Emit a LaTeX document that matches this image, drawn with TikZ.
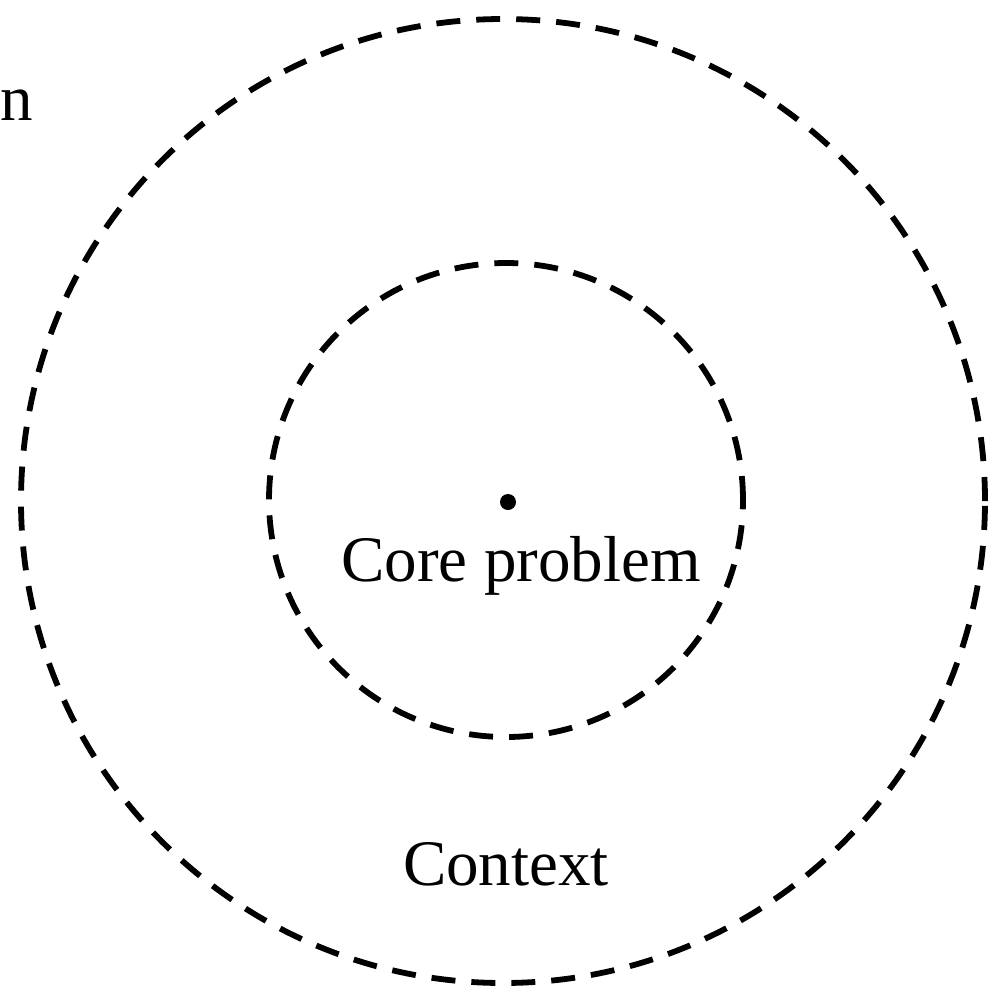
\documentclass[tikz,border=0pt]{standalone}
\usepackage{fontspec}
\setmainfont{Liberation Serif}
\begin{document}
\begin{tikzpicture}[x=0.5pt,y=-0.5pt,
  ring/.style={draw=black,line width=2.9pt,dash pattern=on 12pt off 8pt},
  lbl/.style={inner sep=0pt,font=\fontsize{32.5}{39}\selectfont}]
\useasboundingbox (0,0) rectangle (989,992);
\fill[white] (0,0) rectangle (989,992);
\node[ring,circle,minimum size=482pt,inner sep=0pt] (outer) at (503,501) {};
\node[ring,circle,minimum size=237pt,inner sep=0pt] (inner) at (506,500) {};
\node[circle,fill=black,minimum size=8pt,inner sep=0pt] (dot) at (508,502) {};
\node[lbl,anchor=base] (core) at (521,581) {Core problem};
\node[lbl,anchor=base] (ctx) at (506,885) {Context};
\node[lbl,anchor=base west] (n) at (0,120) {n};
\end{tikzpicture}
\end{document}
